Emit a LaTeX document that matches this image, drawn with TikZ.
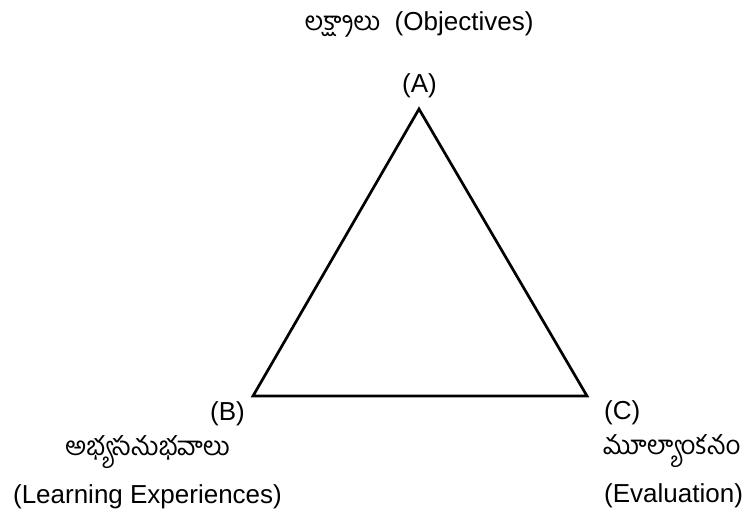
\documentclass[tikz,border=0pt]{standalone}
\usepackage{fontspec}
\setmainfont{Liberation Sans}
\newfontfamily\tel[Script=Telugu]{Hind Guntur}
\begin{document}
\begin{tikzpicture}[x=1pt,y=-1pt,
  lbl/.style={font=\fontsize{26}{30}\selectfont, anchor=base, inner sep=0pt},
  tri/.style={line width=2.7pt, line join=miter}]
\useasboundingbox (0,0) rectangle (746,514);
\coordinate (A) at (419,109);
\coordinate (B) at (253,396);
\coordinate (C) at (587,396);
\draw[tri] (A) -- (B) -- (C) -- cycle;
\node[lbl] (top) at (419,30) {{\tel లక్ష్యాలు}\ \ (Objectives)};
\node[lbl] (la) at (419.5,92) {(A)};
\node[lbl] (lb) at (227.5,420) {(B)};
\node[lbl,anchor=base west] (lc) at (604,419) {(C)};
\node[lbl] (tb) at (147.5,455) {\tel అభ్యసనుభవాలు};
\node[lbl,anchor=base west] (tc) at (603,454) {\tel మూల్యాంకనం};
\node[lbl] (eb) at (147.5,503) {(Learning Experiences)};
\node[lbl,anchor=base west] (ec) at (604,502) {(Evaluation)};
\end{tikzpicture}
\end{document}
